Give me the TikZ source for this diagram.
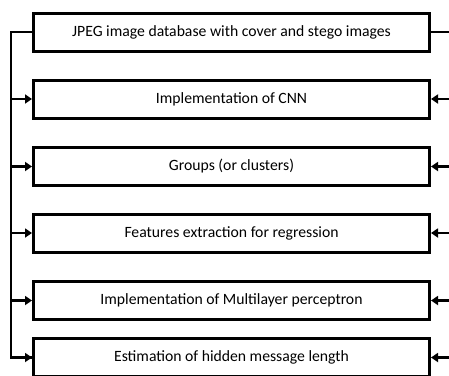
\documentclass[tikz,border=0pt]{standalone}
\usepackage{fontspec}
\setmainfont{Carlito}
\usetikzlibrary{arrows.meta}
\begin{document}
\begin{tikzpicture}[x=1pt,y=-1pt,
  stage/.style={draw=black,line width=3pt,minimum width=396pt,minimum height=38pt,inner sep=0pt,font=\fontsize{15.7}{18}\selectfont},
  link/.style={line width=2.8pt},
  arr/.style={link,-{Triangle[length=7pt,width=9pt]}}]
\useasboundingbox (0,0) rectangle (449,375);
\node[stage] (b1) at (231.5,32) {JPEG image database with cover and stego images};
\node[stage] (b2) at (231.5,99) {Implementation of CNN};
\node[stage] (b3) at (231.5,166.5) {Groups (or clusters)};
\node[stage] (b4) at (231.5,233) {Features extraction for regression};
\node[stage] (b5) at (231.5,300.5) {Implementation of Multilayer perceptron};
\node[stage] (b6) at (231.5,357.5) {Estimation of hidden message length};
\coordinate (lt) at (11,32);
\coordinate (rt) at (452,32);
\draw[link] (b1.west) -- (lt) |- (b6.west);
\draw[link] (b1.east) -- (rt);
\foreach \n in {2,3,4,5,6}{
  \draw[arr] (lt |- b\n.west) -- (b\n.west);
  \draw[arr] (rt |- b\n.east) -- (b\n.east);
}
\end{tikzpicture}
\end{document}
